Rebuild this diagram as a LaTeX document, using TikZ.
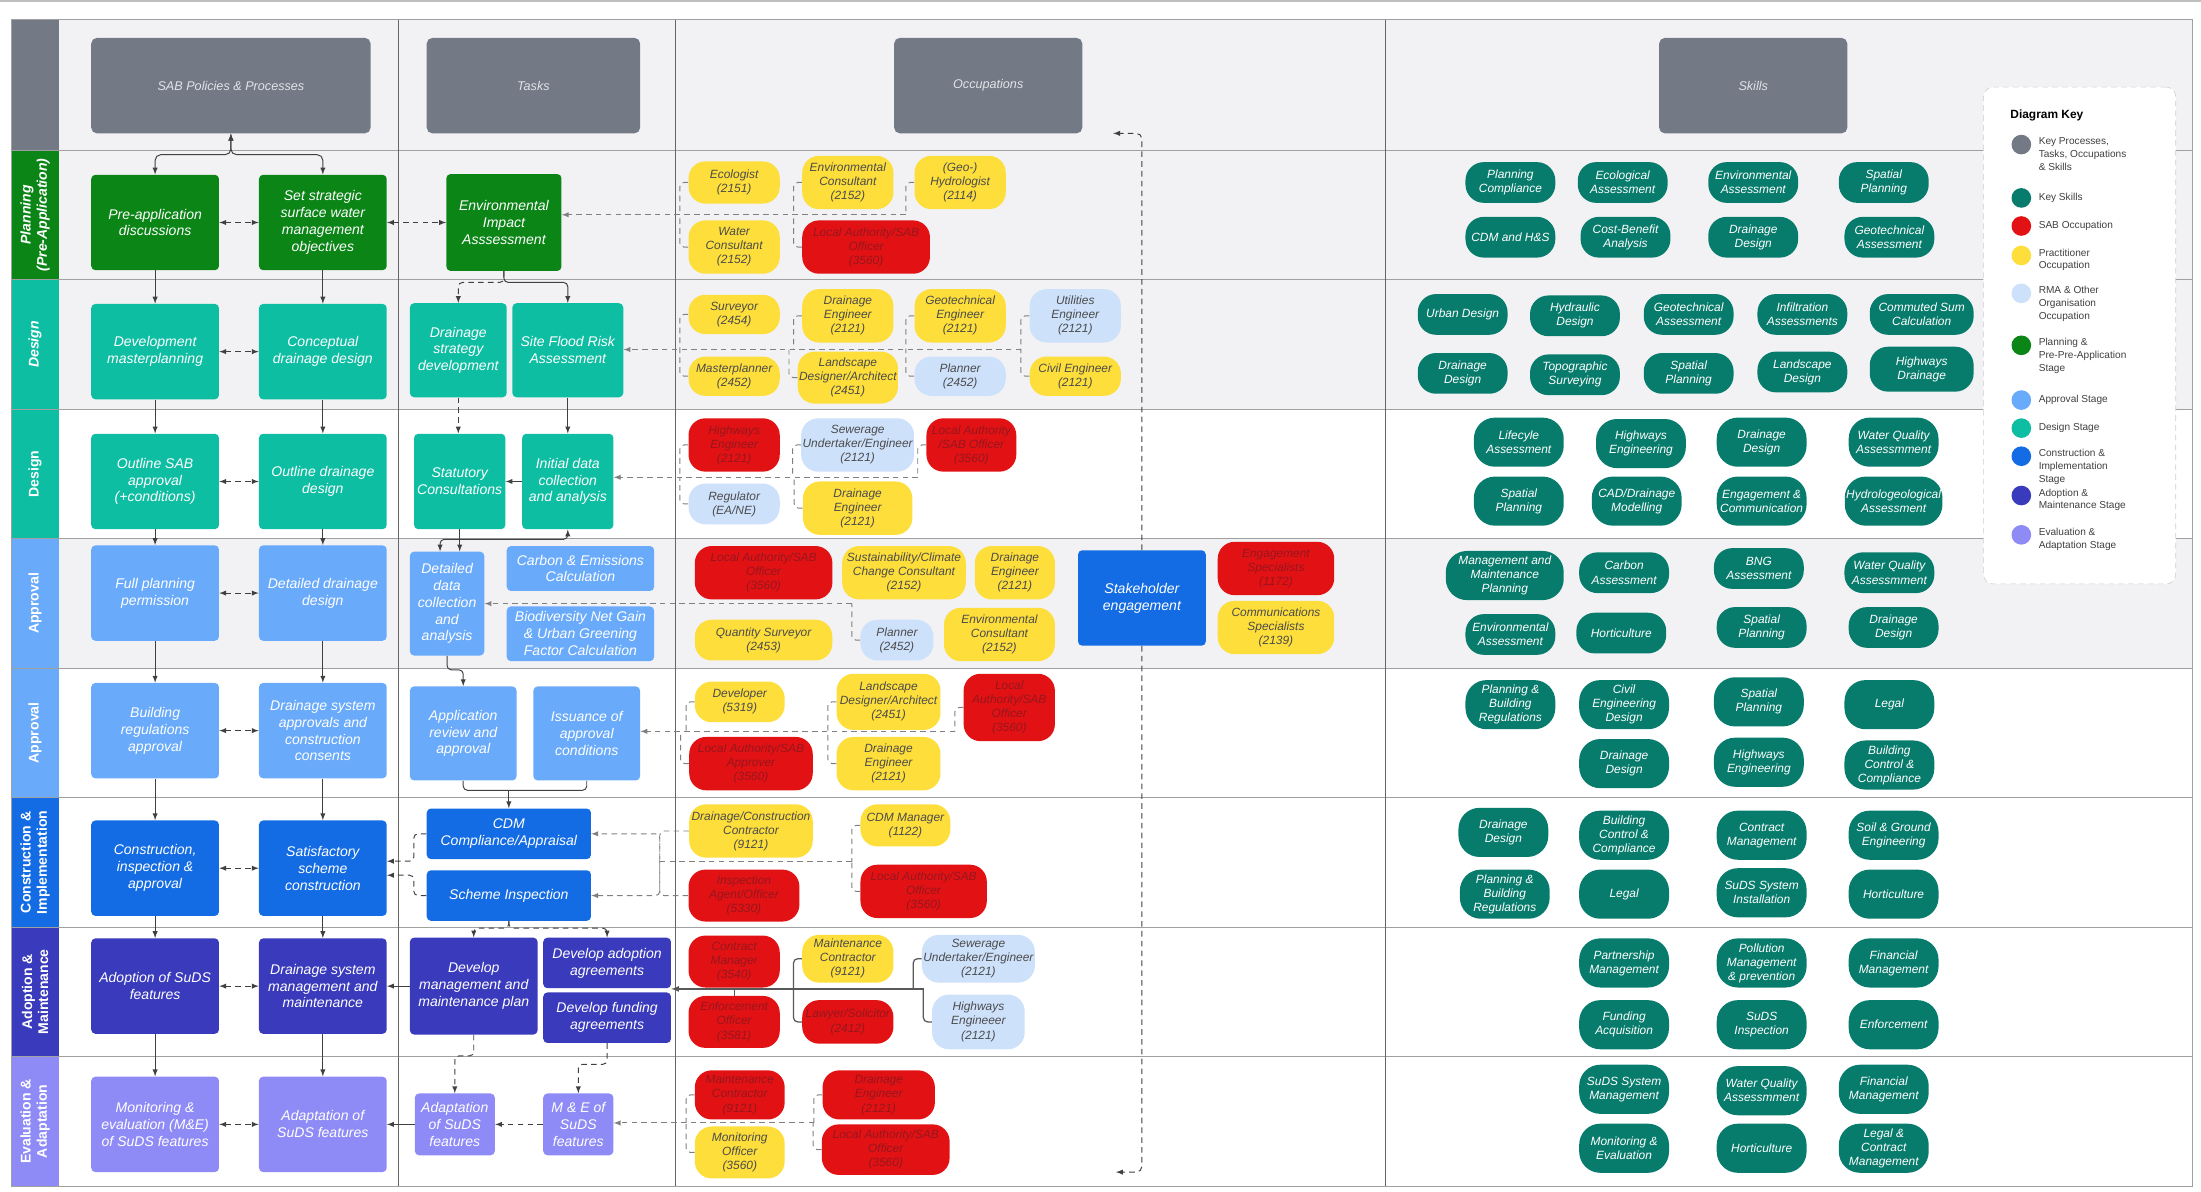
\documentclass[tikz,border=0pt]{standalone}
\usepackage{fontspec}
\setmainfont{Liberation Sans}
\usetikzlibrary{positioning}
\definecolor{header}{RGB}{115,122,134}
\definecolor{hdrtext}{RGB}{225,228,232}
\definecolor{planning}{RGB}{10,133,22}
\definecolor{design}{RGB}{14,190,163}
\definecolor{approval}{RGB}{106,170,250}
\definecolor{construction}{RGB}{20,108,228}
\definecolor{adoption}{RGB}{58,58,188}
\definecolor{evaluation}{RGB}{143,139,246}
\definecolor{keyskill}{RGB}{8,124,108}
\definecolor{saboccupation}{RGB}{226,18,20}
\definecolor{practitioner}{RGB}{253,222,58}
\definecolor{rmaother}{RGB}{206,225,251}
\definecolor{lanebg}{RGB}{242,242,245}
\definecolor{gridline}{RGB}{160,160,160}
\definecolor{occtext}{RGB}{75,75,75}
\definecolor{sabtext}{RGB}{150,22,30}
\newcommand\mainboxfont{\fontsize{10}{12}\selectfont\itshape}
\newcommand\hdrfont{\fontsize{9}{11}\selectfont\itshape}
\newcommand\occfont{\fontsize{8.5}{10}\selectfont\itshape}
\newcommand\lanefont{\fontsize{10}{11.5}\selectfont\bfseries}
\newcommand\keyfont{\fontsize{7.2}{9}\selectfont}
\tikzstyle{box}=[rectangle, rounded corners=3pt, align=center, text=white, font=\mainboxfont, inner sep=1pt]
\tikzset{wh/.style 2 args={minimum width=#1pt, minimum height=#2pt}}
\tikzstyle{policy}=[box, minimum width=91pt, minimum height=68pt]
\tikzstyle{hdr}=[box, fill=header, text=hdrtext, font=\hdrfont, rounded corners=4pt, minimum height=68pt]
\tikzstyle{lane}=[rotate=90, text=white, font=\lanefont, align=center, inner sep=0pt]
\tikzstyle{occ}=[rectangle, rounded corners=12pt, align=center, font=\occfont, inner sep=1pt]
\tikzset{practitioner occ/.style={occ, fill=practitioner, text=occtext},
  sab occ/.style={occ, fill=saboccupation, text=sabtext},
  rma occ/.style={occ, fill=rmaother, text=occtext}}
\tikzstyle{skill}=[occ, rounded corners=13pt, fill=keyskill, text=white, minimum width=64pt, minimum height=29pt]
\tikzset{tall skill/.style={skill, minimum height=35pt, rounded corners=15pt}}
\tikzset{link/.style={-latex, draw=black!75, line width=.7pt},
  link2/.style={latex-latex, draw=black!75, line width=.7pt},
  dlink/.style={link, dash pattern=on 4pt off 3pt},
  dlink2/.style={link2, dash pattern=on 4pt off 3pt},
  occlink/.style={draw=black!50, line width=.7pt, dash pattern=on 4pt off 3pt, rounded corners=3pt},
  occsolid/.style={draw=black!65, line width=.9pt, rounded corners=3pt}}
\tikzstyle{keybox}=[rectangle, fill=white, draw=black!20, dash pattern=on 4pt off 3pt, rounded corners=7pt]
\tikzstyle{keydot}=[circle, minimum size=14pt, inner sep=0pt]
\tikzstyle{keytext}=[font=\keyfont, text=black!75, align=left, inner sep=0pt]
\newcommand\occlink[3][occlink]{\draw[#1] (#2.west) -- ++(-6,0) coordinate (tmp) -- (tmp |- #3);}

\begin{document}
\begin{tikzpicture}[x=1pt,y=-1pt]
  \useasboundingbox (0,0) rectangle (1568,849);

  %% Swim lanes
  \draw[black!25, line width=1.5pt] (0,1) -- (1568,1);
  \fill[lanebg] (42,14) rectangle (1562,291.5);
  \fill[lanebg] (42,383.75) rectangle (1562,476);
  \fill[header] (8,14) rectangle (42,107);
  \fill[planning] (8,107) rectangle (42,199.25);
  \fill[design] (8,199.25) rectangle (42,383.75);
  \fill[approval] (8,383.75) rectangle (42,568.25);
  \fill[construction] (8,568.25) rectangle (42,660.5);
  \fill[adoption] (8,660.5) rectangle (42,752.75);
  \fill[evaluation] (8,752.75) rectangle (42,845);

  \draw[gridline] (8,107) -- (1562,107);
  \draw[gridline] (8,199.25) -- (1562,199.25);
  \draw[gridline] (8,291.5) -- (1562,291.5);
  \draw[gridline] (8,383.75) -- (1562,383.75);
  \draw[gridline] (8,476) -- (1562,476);
  \draw[gridline] (8,568.25) -- (1562,568.25);
  \draw[gridline] (8,660.5) -- (1562,660.5);
  \draw[gridline] (8,752.75) -- (1562,752.75);
  \draw[black!60] (284,14) -- (284,845);
  \draw[black!60] (481,14) -- (481,845);
  \draw[black!60] (987,14) -- (987,845);
  \draw[gridline, line width=.8pt] (8,14) rectangle (1562,845);

  \draw (25,153.1) node[lane, font=\lanefont\itshape] (L1) {Planning\\(Pre-Application)};
  \draw (25,245.4) node[lane, font=\lanefont\itshape] (L2) {Design};
  \draw (25,337.6) node[lane] (L3) {Design};
  \draw (25,429.9) node[lane] (L4) {Approval};
  \draw (25,522.1) node[lane] (L5) {Approval};
  \draw (25,614.4) node[lane] (L6) {Construction \&\\Implementation};
  \draw (25,706.6) node[lane] (L7) {Adoption \&\\Maintenance};
  \draw (25,798.9) node[lane] (L8) {Evaluation \&\\Adaptation};

  %% Column headers
  \draw (164.5,61) node[hdr, minimum width=199pt] (H1) {SAB Policies \& Processes};
  \draw (380,61) node[hdr, minimum width=152pt] (H2) {Tasks};
  \draw (704,61) node[hdr, minimum width=134pt] (H3) {Occupations};
  \draw (1249,61) node[hdr, minimum width=134pt] (H4) {Skills};

  %% SAB policies & processes
  \draw (110.5,158.5) node[policy, fill=planning] (A1) {Pre-application\\discussions};
  \draw (230,158.5) node[policy, fill=planning] (B1) {Set strategic\\surface water\\management\\objectives};
  \draw (110.5,250.5) node[policy, fill=design] (A2) {Development\\masterplanning};
  \draw (230,250.5) node[policy, fill=design] (B2) {Conceptual\\drainage design};
  \draw (110.5,343) node[policy, fill=design] (A3) {Outline SAB\\approval\\(+conditions)};
  \draw (230,343) node[policy, fill=design] (B3) {Outline drainage\\design};
  \draw (110.5,422.5) node[policy, fill=approval] (A4) {Full planning\\permission};
  \draw (230,422.5) node[policy, fill=approval] (B4) {Detailed drainage\\design};
  \draw (110.5,520.5) node[policy, fill=approval] (A5) {Building\\regulations\\approval};
  \draw (230,520.5) node[policy, fill=approval] (B5) {Drainage system\\approvals and\\construction\\consents};
  \draw (110.5,618.5) node[policy, fill=construction] (A6) {Construction,\\inspection \&\\approval};
  \draw (230,618.5) node[policy, fill=construction] (B6) {Satisfactory\\scheme\\construction};
  \draw (110.5,702.5) node[policy, fill=adoption] (A7) {Adoption of SuDS\\features};
  \draw (230,702.5) node[policy, fill=adoption] (B7) {Drainage system\\management and\\maintenance};
  \draw (110.5,801) node[policy, fill=evaluation] (A8) {Monitoring \&\\evaluation (M\&E)\\of SuDS features};
  \draw (230,801) node[policy, fill=evaluation] (B8) {Adaptation of\\SuDS features};

  %% Tasks
  \draw (359,158.5) node[box, wh={82}{69}, fill=planning] (T1) {Environmental\\Impact\\Asssessment};
  \draw (326.5,249.5) node[box, wh={69}{67}, fill=design] (T2a) {Drainage\\strategy\\development};
  \draw (404.5,249.5) node[box, wh={79}{67}, fill=design] (T2b) {Site Flood Risk\\Assessment};
  \draw (327.5,343) node[box, wh={65}{68}, fill=design] (T3a) {Statutory\\Consultations};
  \draw (404.5,343) node[box, wh={65}{68}, fill=design] (T3b) {Initial data\\collection\\and analysis};
  \draw (318.5,430) node[box, wh={53}{74}, fill=approval] (T4a) {Detailed\\data\\collection\\and\\analysis};
  \draw (413.5,405) node[box, wh={105}{32}, fill=approval] (T4b) {Carbon \& Emissions\\Calculation};
  \draw (413.5,451.5) node[box, wh={105}{39}, fill=approval, inner sep=.5pt] (T4c) {Biodiversity Net Gain\\\& Urban Greening\\Factor Calculation};
  \draw (330,522.5) node[box, wh={76}{67}, fill=approval] (T5a) {Application\\review and\\approval};
  \draw (418,522.5) node[box, wh={76}{67}, fill=approval] (T5b) {Issuance of\\approval\\conditions};
  \draw (362.5,594) node[box, wh={117}{36}, fill=construction] (T6a) {CDM\\Compliance/Appraisal};
  \draw (362.5,638) node[box, wh={117}{36}, fill=construction] (T6b) {Scheme Inspection};
  \draw (337.5,702.5) node[box, wh={91}{69}, fill=adoption] (T7a) {Develop\\management and\\maintenance plan};
  \draw (432.5,686) node[box, wh={91}{36}, fill=adoption] (T7b) {Develop adoption\\agreements};
  \draw (432.5,725) node[box, wh={91}{36}, fill=adoption] (T7c) {Develop funding\\agreements};
  \draw (324,801) node[box, wh={57}{44}, fill=evaluation] (T8a) {Adaptation\\of SuDS\\features};
  \draw (412,801) node[box, wh={50}{44}, fill=evaluation] (T8b) {M \& E of\\SuDS\\features};
  \draw (813.5,426) node[box, wh={91}{68}, fill=construction] (SE) {Stakeholder\\engagement};

  %% Occupations
  \draw (523,130) node[practitioner occ, wh={65}{30}] (O11) {Ecologist\\(2151)};
  \draw (604,130) node[practitioner occ, wh={65}{38}] (O12) {Environmental\\Consultant\\(2152)};
  \draw (684,130) node[practitioner occ, wh={65}{38}] (O13) {(Geo-)\\Hydrologist\\(2114)};
  \draw (523,176) node[practitioner occ, wh={65}{38}] (O14) {Water\\Consultant\\(2152)};
  \draw (617,176) node[sab occ, wh={91}{38}] (O15) {Local Authority/SAB\\Officer\\(3560)};

  \draw (523,224) node[practitioner occ, wh={65}{28}] (O21) {Surveyor\\(2454)};
  \draw (604,225) node[practitioner occ, wh={65}{38}] (O22) {Drainage\\Engineer\\(2121)};
  \draw (684,225) node[practitioner occ, wh={65}{38}] (O23) {Geotechnical\\Engineer\\(2121)};
  \draw (766,225) node[rma occ, wh={65}{38}] (O24) {Utilities\\Engineer\\(2121)};
  \draw (523,268) node[practitioner occ, wh={65}{28}] (O25) {Masterplanner\\(2452)};
  \draw (604,269) node[practitioner occ, wh={65}{37}] (O26) {Landscape\\Designer/Architect\\(2451)};
  \draw (684,268) node[rma occ, wh={65}{28}] (O27) {Planner\\(2452)};
  \draw (766,268) node[practitioner occ, wh={65}{28}] (O28) {Civil Engineer\\(2121)};

  \draw (523,317) node[sab occ, wh={65}{38}] (O31) {Highways\\Engineer\\(2121)};
  \draw (611,317) node[rma occ, wh={78}{38}] (O32) {Sewerage\\Undertaker/Engineer\\(2121)};
  \draw (692,317) node[sab occ, wh={64}{38}] (O33) {Local Authority\\/SAB Officer\\(3560)};
  \draw (523,359) node[rma occ, wh={65}{29}] (O34) {Regulator\\(EA/NE)};
  \draw (611,362) node[practitioner occ, wh={78}{38}] (O35) {Drainage\\Engineer\\(2121)};

  \draw (544,408) node[sab occ, wh={98}{38}] (O41) {Local Authority/SAB\\Officer\\(3560)};
  \draw (644,408) node[practitioner occ, wh={88}{38}] (O42) {Sustainability/Climate\\Change Consultant\\(2152)};
  \draw (723,408) node[practitioner occ, wh={57}{38}] (O43) {Drainage\\Engineer\\(2121)};
  \draw (544,456) node[practitioner occ, wh={98}{29}] (O44) {Quantity Surveyor\\(2453)};
  \draw (639,456) node[rma occ, wh={52}{29}] (O45) {Planner\\(2452)};
  \draw (712,452) node[practitioner occ, wh={79}{38}] (O46) {Environmental\\Consultant\\(2152)};
  \draw (909,405) node[sab occ, wh={83}{38}] (O47) {Engagement\\Specialists\\(1172)};
  \draw (909,447) node[practitioner occ, wh={83}{38}] (O48) {Communications\\Specialists\\(2139)};

  \draw (527,500) node[practitioner occ, wh={64}{29}] (O51) {Developer\\(5319)};
  \draw (633,500) node[practitioner occ, wh={74}{40}] (O52) {Landscape\\Designer/Architect\\(2451)};
  \draw (719,504) node[sab occ, wh={65}{48}] (O53) {Local\\Authority/SAB\\Officer\\(3560)};
  \draw (535,544) node[sab occ, wh={88}{38}] (O54) {Local Authority/SAB\\Approver\\(3560)};
  \draw (633,544) node[practitioner occ, wh={74}{38}] (O55) {Drainage\\Engineer\\(2121)};

  \draw (535,592) node[practitioner occ, wh={88}{38}] (O61) {Drainage/Construction\\Contractor\\(9121)};
  \draw (645,588) node[practitioner occ, wh={64}{30}] (O62) {CDM Manager\\(1122)};
  \draw (530,638) node[sab occ, wh={79}{37}] (O63) {Inspection\\Agent/Officer\\(5330)};
  \draw (658,635) node[sab occ, wh={90}{38}] (O64) {Local Authority/SAB\\Officer\\(3560)};

  \draw (523,685) node[sab occ, wh={65}{37}] (O71) {Contract\\Manager\\(3540)};
  \draw (604,683) node[practitioner occ, wh={65}{34}] (O72) {Maintenance\\Contractor\\(9121)};
  \draw (697,683) node[rma occ, wh={66}{34}] (O73) {Sewerage\\Undertaker/Engineer\\(2121)};
  \draw (523,728) node[sab occ, wh={65}{37}] (O74) {Enforcement\\Officer\\(3581)};
  \draw (604,728) node[sab occ, wh={65}{31}] (O75) {Lawyer/Solicitor\\(2412)};
  \draw (697,728) node[rma occ, wh={66}{39}] (O76) {Highways\\Engineeer\\(2121)};

  \draw (527,780) node[sab occ, wh={64}{35}] (O81) {Maintenance\\Contractor\\(9121)};
  \draw (626,780) node[sab occ, wh={80}{35}] (O82) {Drainage\\Engineer\\(2121)};
  \draw (527,821) node[practitioner occ, wh={64}{37}] (O83) {Monitoring\\Officer\\(3560)};
  \draw (631,819) node[sab occ, wh={91}{36}] (O84) {Local Authority/SAB\\Officer\\(3560)};

  %% Skills
  \draw (1076,130) node[skill] (K11) {Planning\\Compliance};
  \draw (1156,130) node[skill] (K12) {Ecological\\Assessment};
  \draw (1249,130) node[skill] (K13) {Environmental\\Assessment};
  \draw (1342,130) node[skill] (K14) {Spatial\\Planning};
  \draw (1076,169) node[skill] (K15) {CDM and H\&S};
  \draw (1158,169) node[skill] (K16) {Cost-Benefit\\Analysis};
  \draw (1249,169) node[skill] (K17) {Drainage\\Design};
  \draw (1346,169) node[skill] (K18) {Geotechnical\\Assessment};

  \draw (1042,224) node[skill] (K21) {Urban Design};
  \draw (1122,225) node[skill] (K22) {Hydraulic\\Design};
  \draw (1203,224) node[skill] (K23) {Geotechnical\\Assessment};
  \draw (1284,224) node[skill] (K24) {Infiltration\\Assessments};
  \draw (1369,224) node[skill, minimum width=74pt] (K25) {Commuted Sum\\Calculation};
  \draw (1042,266) node[skill] (K26) {Drainage\\Design};
  \draw (1122,267) node[skill] (K27) {Topographic\\Surveying};
  \draw (1203,266) node[skill] (K28) {Spatial\\Planning};
  \draw (1284,265) node[skill] (K29) {Landscape\\Design};
  \draw (1369,263) node[skill, minimum width=74pt, minimum height=32pt] (K210) {Highways\\Drainage};

  \draw (1082,315) node[tall skill] (K31) {Lifecyle\\Assessment};
  \draw (1169,316) node[tall skill] (K32) {Highways\\Engineering};
  \draw (1255,315) node[tall skill] (K33) {Drainage\\Design};
  \draw (1349,315) node[tall skill] (K34) {Water Quality\\Assessmment};
  \draw (1082,357) node[tall skill] (K35) {Spatial\\Planning};
  \draw (1166,357) node[tall skill] (K36) {CAD/Drainage\\Modelling};
  \draw (1255,357) node[tall skill] (K37) {Engagement \&\\Communication};
  \draw (1349,357) node[tall skill] (K38) {Hydrologeological\\Assessment};

  \draw (1072,410) node[tall skill, minimum width=84pt] (K41) {Management and\\Maintenance\\Planning};
  \draw (1157,408) node[skill] (K42) {Carbon\\Assessment};
  \draw (1253,405) node[skill] (K43) {BNG\\Assessment};
  \draw (1346,408) node[skill] (K44) {Water Quality\\Assessmment};
  \draw (1076,452) node[skill] (K45) {Environmental\\Assessment};
  \draw (1155,451) node[skill] (K46) {Horticulture};
  \draw (1255,447) node[skill] (K47) {Spatial\\Planning};
  \draw (1349,447) node[skill] (K48) {Drainage\\Design};

  \draw (1076,502) node[tall skill] (K51) {Planning \&\\Building\\Regulations};
  \draw (1157,502) node[tall skill] (K52) {Civil\\Engineering\\Design};
  \draw (1253,500) node[tall skill] (K53) {Spatial\\Planning};
  \draw (1346,502) node[tall skill] (K54) {Legal};
  \draw (1157,544) node[tall skill] (K55) {Drainage\\Design};
  \draw (1253,543) node[tall skill] (K56) {Highways\\Engineering};
  \draw (1346,545) node[tall skill] (K57) {Building\\Control \&\\Compliance};

  \draw (1071,593) node[tall skill] (K61) {Drainage\\Design};
  \draw (1157,595) node[tall skill] (K62) {Building\\Control \&\\Compliance};
  \draw (1255,595) node[tall skill] (K63) {Contract\\Management};
  \draw (1349,595) node[tall skill] (K64) {Soil \& Ground\\Engineering};
  \draw (1072,637) node[tall skill] (K65) {Planning \&\\Building\\Regulations};
  \draw (1157,637) node[tall skill] (K66) {Legal};
  \draw (1255,636) node[tall skill] (K67) {SuDS System\\Installation};
  \draw (1349,637) node[tall skill] (K68) {Horticulture};

  \draw (1157,686) node[tall skill] (K71) {Partnership\\Management};
  \draw (1255,686) node[tall skill] (K72) {Pollution\\Management\\\& prevention};
  \draw (1349,686) node[tall skill] (K73) {Financial\\Management};
  \draw (1157,730) node[tall skill] (K74) {Funding\\Acquisition};
  \draw (1255,730) node[tall skill] (K75) {SuDS\\Inspection};
  \draw (1349,730) node[tall skill] (K76) {Enforcement};

  \draw (1157,776) node[tall skill] (K81) {SuDS System\\Management};
  \draw (1255,777) node[tall skill] (K82) {Water Quality\\Assessmment};
  \draw (1342,776) node[tall skill] (K83) {Financial\\Management};
  \draw (1157,818) node[tall skill] (K84) {Monitoring \&\\Evaluation};
  \draw (1255,818) node[tall skill] (K85) {Horticulture};
  \draw (1342,818) node[tall skill] (K86) {Legal \&\\Contract\\Management};

  %% Policy flow
  \draw[link2, rounded corners=4pt] (H1.south) -- ++(0,15) -| (A1.north);
  \draw[link2, rounded corners=4pt] (H1.south) -- ++(0,15) -| (B1.north);
  \draw[link] (A1) -- (A2);
  \draw[link] (A2) -- (A3);
  \draw[link] (A3) -- (A4);
  \draw[link] (A4) -- (A5);
  \draw[link] (A5) -- (A6);
  \draw[link] (A6) -- (A7);
  \draw[link] (A7) -- (A8);
  \draw[link] (B1) -- (B2);
  \draw[link] (B2) -- (B3);
  \draw[link] (B3) -- (B4);
  \draw[link] (B4) -- (B5);
  \draw[link] (B5) -- (B6);
  \draw[link] (B6) -- (B7);
  \draw[link] (B7) -- (B8);
  \draw[dlink2] (A1) -- (B1);
  \draw[dlink2] (A2) -- (B2);
  \draw[dlink2] (A3) -- (B3);
  \draw[dlink2] (A4) -- (B4);
  \draw[dlink2] (A5) -- (B5);
  \draw[dlink2] (A6) -- (B6);
  \draw[dlink2] (A7) -- (B7);
  \draw[dlink2] (A8) -- (B8);
  \draw[dlink2] (B1) -- (T1);

  %% Task flow
  \draw[dlink, rounded corners=3pt] (T1.south) -- ++(0,8) -| (T2a.north);
  \draw[link, rounded corners=3pt] (T1.south) -- ++(0,8) -| (T2b.north);
  \draw[dlink] (T2a.south) -- (T2a.south |- T3a.north);
  \draw[link] (T2b) -- (T3b);
  \draw[link] (T3b) -- (T3a);
  \draw[link] (T3a.south) -- (T3a.south |- T4a.north);
  \draw[link2, rounded corners=3pt] (T3b.south) -- ++(0,7) -| ([xshift=-5pt]T4a.north);
  \draw[link, rounded corners=3pt] (T4a.south) -- ++(0,10) -| (T5a.north);
  \coordinate (J5t) at (362.5,563);
  \draw[draw=black!75, line width=.7pt, rounded corners=3pt] (T5a.south) |- (J5t) -| (T5b.south);
  \draw[link] (J5t) -- (T6a.north);
  \draw[dlink, rounded corners=3pt] (T6a.west) -- ++(-9,0) |- ([yshift=5pt]B6.east);
  \draw[dlink, rounded corners=3pt] (T6b.west) -- ++(-9,0) |- ([yshift=-5pt]B6.east);
  \draw[dlink, rounded corners=3pt] (T6b.south) -- ++(0,5) -| (T7a.north);
  \draw[dlink, rounded corners=3pt] (T6b.south) -- ++(0,5) -| (T7b.north);
  \draw[link] (T7a) -- (B7);
  \draw[dlink, rounded corners=3pt] (T7a.south) -- ++(0,15) -| (T8a.north);
  \draw[dlink, rounded corners=3pt] (T7c.south) -- ++(0,15) -| (T8b.north);
  \draw[link] (T8a) -- (B8);
  \draw[dlink] (T8b) -- (T8a);
  \coordinate (SEup) at (793,95);
  \coordinate (SEdown) at (795,835);
  \draw[dlink, rounded corners=4pt] (SE.north) |- (SEup);
  \draw[dlink, rounded corners=4pt] (SE.south) |- (SEdown);

  %% Occupations to tasks
  \coordinate (J1) at (645.5,153);
  \occlink{O11}{J1} \occlink{O12}{J1} \occlink{O13}{J1} \occlink{O14}{J1} \occlink{O15}{J1}
  \draw[occlink,-latex] (J1) -- (J1 -| T1.east);
  \coordinate (J2) at (727.5,249);
  \occlink{O21}{J2} \occlink{O22}{J2} \occlink{O23}{J2} \occlink{O24}{J2}
  \occlink{O25}{J2} \occlink{O26}{J2} \occlink{O27}{J2} \occlink{O28}{J2}
  \draw[occlink,-latex] (J2) -- (J2 -| T2b.east);
  \coordinate (J3) at (654,340);
  \occlink{O31}{J3} \occlink{O32}{J3} \occlink{O33}{J3} \occlink{O34}{J3} \occlink{O35}{J3}
  \draw[occlink,-latex] (J3) -- (J3 -| T3b.east);
  \coordinate (J4) at (607,430);
  \occlink{O45}{J4}
  \draw[occlink,-latex] (J4) -- (J4 -| T4a.east);
  \coordinate (J5) at (680.5,521);
  \occlink{O51}{J5} \occlink{O52}{J5} \occlink{O53}{J5} \occlink{O54}{J5} \occlink{O55}{J5}
  \draw[occlink,-latex] (J5) -- (J5 -| T5b.east);
  \coordinate (J6) at (607,614);
  \coordinate (K6) at (470,614);
  \occlink{O62}{J6} \occlink{O64}{J6}
  \draw[occlink] (J6) -- (K6);
  \draw[occlink] (O61.west) -| (K6);
  \draw[occlink] (O63.west) -| (K6);
  \draw[occlink,-latex] (K6) |- (T6a.east);
  \draw[occlink,-latex] (K6) |- (T6b.east);
  \coordinate (J7) at (658,704.5);
  \occlink[occsolid]{O72}{J7} \occlink[occsolid]{O73}{J7} \occlink[occsolid]{O75}{J7} \occlink[occsolid]{O76}{J7}
  \draw[occsolid] (O71.south) -- (O74.north);
  \draw[occsolid,-latex] (J7) -- (J7 -| T7b.east);
  \coordinate (J8) at (580,800);
  \occlink{O81}{J8} \occlink{O82}{J8} \occlink{O83}{J8} \occlink{O84}{J8}
  \draw[occlink,-latex] (J8) -- (J8 -| T8b.east);

  %% Diagram key
  \draw (1481.5,239) node[keybox, minimum width=137pt, minimum height=354pt] (KEY) {};
  \draw (1432,82) node[anchor=west, inner sep=0pt, font=\fontsize{8.5}{10}\selectfont\bfseries] (KT) {Diagram Key};
  \draw (1440,103) node[keydot, fill=header] (KD1) {};
  \draw (1440,141) node[keydot, fill=keyskill] (KD2) {};
  \draw (1440,161) node[keydot, fill=saboccupation] (KD3) {};
  \draw (1440,182) node[keydot, fill=practitioner] (KD4) {};
  \draw (1440,209) node[keydot, fill=rmaother] (KD5) {};
  \draw (1440,246) node[keydot, fill=planning] (KD6) {};
  \draw (1440,285) node[keydot, fill=approval] (KD7) {};
  \draw (1440,305) node[keydot, fill=design] (KD8) {};
  \draw (1440,325) node[keydot, fill=construction] (KD9) {};
  \draw (1440,353) node[keydot, fill=adoption] (KD10) {};
  \draw (1440,381) node[keydot, fill=evaluation] (KD11) {};
  \node[keytext, anchor=north west] (KL1) at ([xshift=5pt,yshift=5pt]KD1.east) {Key Processes,\\Tasks, Occupations\\\& Skills};
  \node[keytext, right=5pt of KD2] (KL2) {Key Skills};
  \node[keytext, right=5pt of KD3] (KL3) {SAB Occupation};
  \node[keytext, anchor=north west] (KL4) at ([xshift=5pt,yshift=5pt]KD4.east) {Practitioner\\Occupation};
  \node[keytext, anchor=north west] (KL5) at ([xshift=5pt,yshift=5pt]KD5.east) {RMA \& Other\\Organisation\\Occupation};
  \node[keytext, anchor=north west] (KL6) at ([xshift=5pt,yshift=5pt]KD6.east) {Planning \&\\Pre-Pre-Application\\Stage};
  \node[keytext, right=5pt of KD7] (KL7) {Approval Stage};
  \node[keytext, right=5pt of KD8] (KL8) {Design Stage};
  \node[keytext, anchor=north west] (KL9) at ([xshift=5pt,yshift=5pt]KD9.east) {Construction \&\\Implementation\\Stage};
  \node[keytext, anchor=north west] (KL10) at ([xshift=5pt,yshift=5pt]KD10.east) {Adoption \&\\Maintenance Stage};
  \node[keytext, anchor=north west] (KL11) at ([xshift=5pt,yshift=5pt]KD11.east) {Evaluation \&\\Adaptation Stage};
\end{tikzpicture}
\end{document}
